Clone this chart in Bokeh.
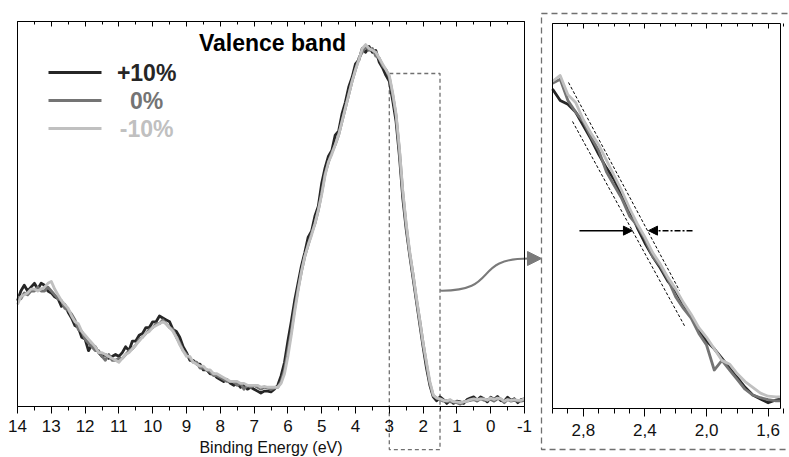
import numpy as np
from bokeh.plotting import figure
from bokeh.models import (Range1d, LinearAxis, FixedTicker, Label, Arrow,
                          NormalHead, ColumnDataSource)
from bokeh.core.properties import value
from bokeh.embed import file_html
from bokeh.resources import INLINE

FONT = "Liberation Sans"

# ---------------- data ----------------
SERIES = ["+10%", "0%", "-10%"]
COLORS = ["#262626", "#747474", "#c0c0c0"]

# binding energy grid of the wide spectrum (eV), 14.0 -> -1.0 in 0.1 steps
energy = np.round(np.arange(140, -11, -1) / 10.0, 1)

vb_p10 = [
    27.5, 30, 31.5, 30, 31, 32, 30.5, 32, 31.5, 30,
    29.5, 28.5, 28, 26, 26.5, 24.5, 23, 21, 20.5, 18,
    17.5, 14.5, 16, 15.5, 14, 13, 13.5, 12.5, 13, 13.5,
    13, 14, 15.5, 14.5, 17, 17, 18.5, 19, 20.5, 20.5,
    22, 22, 23.5, 23, 22.5, 22, 20, 19.5, 18, 15.5,
    14, 12, 12, 11, 11, 9.5, 9.5, 8.5, 8.5, 7.5,
    7, 6.5, 7, 6, 5.5, 6, 5, 5.5, 4.5, 5,
    4.5, 4, 3.5, 4, 4, 3.8, 4.5, 5.5, 8, 11.5,
    17, 22, 27.5, 32, 36.5, 40, 44, 45.5, 49.5, 52,
    58, 62, 65, 66.5, 70.5, 71.5, 76, 79, 83, 85.5,
    89, 90, 93, 92, 93.5, 92, 92.5, 89.5, 88, 86,
    84.5, 79.5, 74, 65, 54, 46, 39.5, 33.5, 27.5, 21.5,
    15.5, 10, 5.5, 2.5, 1.5, 2.5, 1.8, 0.8, 1.6, 0.8,
    1.4, 1.2, 0.8, 1.8, 2.2, 2.5, 1.6, 2.5, 2.0, 1.2,
    2.4, 1.8, 2.6, 1.5, 1.4, 2.4, 1.6, 2.0, 1.0, 1.8,
    2.0]
vb_0 = [
    28.5, 28, 29.5, 29, 30, 30, 31, 30, 30, 31,
    30, 29, 28, 27.5, 25.5, 25, 24, 22.5, 20, 19.5,
    17.5, 16.5, 15.5, 14.5, 14.5, 13, 12, 13.5, 12, 12,
    12.5, 12.5, 13.5, 14.5, 15, 16, 17.5, 18, 19, 20,
    20.5, 21.5, 21.5, 22.5, 21.5, 20.5, 20, 18, 16.5, 14.5,
    13.5, 12.5, 11.5, 11.5, 10, 10, 9.5, 9, 8, 8,
    7.5, 7, 6.5, 6.5, 6.5, 5.5, 6, 4.5, 5.5, 5,
    5.5, 5, 4.5, 5, 4.8, 4.4, 4.8, 5, 6.5, 9.5,
    14.5, 19.5, 25.5, 30.5, 35, 39, 42, 45, 47.5, 51,
    55.5, 60.5, 63.5, 66, 68, 70.5, 74, 77.5, 81, 84.5,
    87.5, 90.5, 92, 93.5, 92.5, 93, 91, 90.5, 88.5, 87.5,
    85.5, 81, 75.5, 66.5, 55.5, 47, 40, 34.5, 28, 22.5,
    16.5, 11, 6, 2.8, 2.2, 1.8, 1.4, 1.5, 1.2, 1.2,
    1.0, 0.6, 1.2, 1.4, 1.6, 1.8, 1.4, 2.0, 1.6, 1.8,
    1.8, 1.4, 2.0, 2.0, 1.0, 1.8, 1.4, 1.6, 1.4, 1.4,
    1.6]
vb_m10 = [
    26.5, 28.5, 29, 29.5, 30.5, 30.5, 30, 30.5, 31, 32,
    32.5, 30.5, 29, 27.5, 26.5, 25.5, 23.5, 22, 21.5, 19.5,
    18.5, 17.5, 16.5, 15.5, 14, 14, 13.5, 13, 12.5, 12,
    11.5, 12.5, 13.5, 14, 15, 16, 17, 18, 19, 19.5,
    20.5, 21, 21.5, 22, 21.5, 20.5, 19.5, 18, 16, 14.5,
    13, 13, 11.5, 11, 10.5, 10.5, 9.5, 9.5, 8.5, 8.5,
    8, 7.5, 7, 6.5, 6.5, 6.5, 6, 6, 5.5, 5.5,
    5.5, 5.5, 5, 5.2, 5, 5, 5, 5, 6, 8.5,
    13, 18.5, 24.5, 30, 35, 39, 42, 44.5, 47.5, 51,
    55, 60, 63.5, 65.5, 68, 70.5, 74, 77.5, 81, 84.5,
    87.5, 90, 93, 94, 93, 92.5, 92, 90.5, 89, 87.5,
    86, 81.5, 76, 67, 56, 47.5, 40.5, 34.5, 28.5, 22.5,
    16.5, 11.5, 6.5, 3, 2.2, 2.0, 1.6, 1.4, 1.8, 1.2,
    1.2, 1.0, 1.2, 1.4, 1.8, 2.0, 1.8, 2.0, 2.0, 1.6,
    2.2, 1.8, 2.2, 2.0, 1.4, 1.8, 1.6, 1.8, 1.6, 1.6,
    2.0]

# zoomed valence-band edge (right panel)
zoom_energy = [3.00, 2.95, 2.90, 2.85, 2.80, 2.75, 2.70, 2.65, 2.60, 2.55,
               2.50, 2.45, 2.40, 2.35, 2.30, 2.25, 2.20, 2.15, 2.10, 2.05,
               2.00, 1.95, 1.90, 1.85, 1.80, 1.75, 1.70, 1.65, 1.60, 1.55,
               1.52]
edge_p10 = [83, 80, 79, 77, 73.5, 70, 66, 62.5, 59.5, 55,
            51.5, 47, 43, 39.5, 36.5, 33, 30.5, 27, 24, 20.5,
            17.5, 15.5, 13, 10.5, 8, 5.5, 3.5, 2.5, 1.5, 2.2,
            2.5]
edge_0 = [84.5, 85.5, 80, 77, 74.5, 70.5, 67, 61.5, 58, 54.5,
          50, 47.5, 44, 39.5, 37, 33.5, 29, 26, 23.5, 19.5,
          16.5, 10, 12.5, 10, 7.5, 5, 3.5, 2.8, 2.3, 2,
          2]
edge_m10 = [85, 86.5, 81.5, 79.5, 75, 71.5, 68.5, 64.5, 60.5, 56.5,
            52, 48, 44.5, 40.5, 37.5, 34, 31, 27.5, 24.5, 21,
            18.5, 15.5, 12.5, 11.5, 9, 7, 5.5, 4, 3.2, 3,
            3]

LEFT_TICKS = [14, 13, 12, 11, 10, 9, 8, 7, 6, 5, 4, 3, 2, 1, 0, -1]
LEFT_TICK_LABELS = ["14", "13", "12", "11", "10", "9", "8", "7", "6", "5",
                    "4", "3", "2", "1", "0", "-1"]
ZOOM_TICKS = [2.8, 2.4, 2.0, 1.6]
ZOOM_TICK_LABELS = ["2,8", "2,4", "2,0", "1,6"]

# ---------------- figure ----------------
p = figure(width=789, height=457, output_backend="svg", toolbar_location=None,
           x_range=Range1d(14.503, -8.840), y_range=Range1d(-13.247, 105.455),
           x_axis_type=None, y_axis_type=None, min_border=0,
           outline_line_color=None, background_fill_color="white",
           border_fill_color="white")
p.extra_x_ranges = {"zx": Range1d(6.5833, 1.4615)}
p.extra_y_ranges = {"zy": Range1d(-12.727, 105.974)}


def frame(xr, yr, x0, x1, y0, y1, majors, labels, minors, tick_out, label=None):
    lo, hi = min(x0, x1), max(x0, x1)
    bottom = LinearAxis(x_range_name=xr, y_range_name=yr, fixed_location=y0,
                        bounds=(lo, hi),
                        ticker=FixedTicker(ticks=majors, minor_ticks=minors),
                        major_label_overrides=dict(zip(majors, labels)),
                        major_tick_out=tick_out[0], major_tick_in=0,
                        minor_tick_out=tick_out[1], minor_tick_in=0,
                        major_label_standoff=7,
                        major_label_text_font=FONT,
                        major_label_text_font_size="17px",
                        major_label_text_color="#111111",
                        axis_line_color="black", major_tick_line_color="black",
                        minor_tick_line_color="black")
    if label:
        bottom.axis_label = label
        bottom.axis_label_text_font = FONT
        bottom.axis_label_text_font_size = "16px"
        bottom.axis_label_text_font_style = "normal"
        bottom.axis_label_text_color = "#111111"
        bottom.axis_label_standoff = 3
    p.add_layout(bottom, "below")
    top = LinearAxis(x_range_name=xr, y_range_name=yr, fixed_location=y1,
                     bounds=(lo, hi),
                     ticker=FixedTicker(ticks=majors, minor_ticks=minors),
                     major_label_overrides={t: "" for t in majors},
                     major_tick_out=0, major_tick_in=5,
                     minor_tick_out=0, minor_tick_in=3,
                     axis_line_color="black", major_tick_line_color="black",
                     minor_tick_line_color="black")
    p.add_layout(top, "above")
    for side, loc in (("left", x0), ("right", x1)):
        ax = LinearAxis(x_range_name=xr, y_range_name=yr, fixed_location=loc,
                        bounds=(y0, y1), ticker=FixedTicker(ticks=[]),
                        axis_line_color="black")
        p.add_layout(ax, side)


frame("default", "default", 14, -1, 0, 100, LEFT_TICKS, LEFT_TICK_LABELS,
      [v / 2 for v in range(-2, 29)], (7, 4), label="Binding Energy (eV)")
frame("zx", "zy", 3.0, 1.52, 0, 100, ZOOM_TICKS, ZOOM_TICK_LABELS,
      [round(v / 10, 1) for v in range(15, 31)], (8, 5))

# dashed boxes
p.quad(left=1.5, right=3.0, bottom=-11.2, top=86.5, fill_color=None,
       line_color="#707070", line_width=1.3, line_dash="4 3")
p.quad(left=3.0714, right=1.39, bottom=-10.65, top=102.6, fill_color=None,
       line_color="#707070", line_width=1.3, line_dash="6 4",
       x_range_name="zx", y_range_name="zy")

# wide spectra
for ys, c in zip([vb_p10, vb_0, vb_m10], COLORS):
    p.line(energy, ys, line_color=c, line_width=2.8, line_join="round")

# zoomed edges
for ys, c in zip([edge_p10, edge_0, edge_m10], COLORS):
    p.line(zoom_energy, ys, line_color=c, line_width=2.8, line_join="round",
           x_range_name="zx", y_range_name="zy")

# guide lines on the zoom
p.segment(x0=[2.896, 2.870], y0=[84.68, 74.55], x1=[2.176, 2.137], y1=[30.65, 21.04],
          line_color="black", line_width=1, line_dash="3 2",
          x_range_name="zx", y_range_name="zy")
p.add_layout(Arrow(end=NormalHead(size=9, fill_color="black", line_color="black"),
                   x_start=2.825, y_start=46.2, x_end=2.481, y_end=46.2,
                   line_color="black", line_width=1.5,
                   x_range_name="zx", y_range_name="zy"))
p.add_layout(Arrow(end=NormalHead(size=9, fill_color="black", line_color="black"),
                   x_start=2.091, y_start=46.2, x_end=2.377, y_end=46.2,
                   line_color="black", line_width=1.5, line_dash="6 2 2 2",
                   x_range_name="zx", y_range_name="zy"))

# curved connector arrow
p.bezier(x0=1.5, y0=30.1, x1=-1.118, y1=38.44, cx0=-0.29, cy0=29.9,
         cx1=0.58, cy1=38.44, line_color="#7a7a7a", line_width=2)
p.add_layout(Arrow(end=NormalHead(size=14, fill_color="#7a7a7a", line_color="#7a7a7a"),
                   x_start=-1.118, y_start=38.44, x_end=-1.503, y_end=38.44,
                   line_color="#7a7a7a", line_width=2))

# legend + title
leg = ColumnDataSource(dict(x0=[13.083] * 3, x1=[11.515] * 3,
                            y=[86.75, 79.48, 72.2], tx=[10.18] * 3,
                            text=SERIES, color=COLORS))
p.segment(x0="x0", y0="y", x1="x1", y1="y", line_color="color", line_width=3,
          source=leg)
p.text(x="tx", y="y", text="text", text_color="color", text_font=value(FONT),
       text_font_style="bold", text_font_size="23px", text_align="center",
       text_baseline="middle", source=leg)
p.add_layout(Label(x=6.456, y=94.5, text="Valence band", text_font=FONT,
                   text_font_style="bold", text_font_size="23px",
                   text_align="center", text_baseline="middle",
                   text_color="black"))

open("out.html", "w").write(file_html(p, INLINE))
